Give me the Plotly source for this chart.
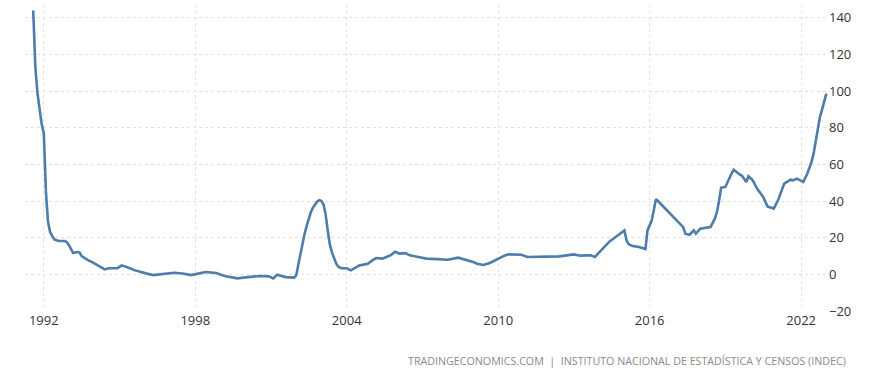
import plotly.graph_objects as go

dates = [
    "1991-08-01", "1991-09-01", "1991-10-01", "1991-11-01", "1991-12-01",
    "1992-01-01", "1992-02-01", "1992-03-01", "1992-04-01", "1992-06-01",
    "1992-08-01", "1992-11-01", "1992-12-01", "1993-01-01", "1993-02-01",
    "1993-03-01", "1993-05-01", "1993-06-01", "1993-07-01", "1993-08-01",
    "1993-10-01", "1993-12-01", "1994-02-01", "1994-04-01", "1994-06-01",
    "1994-08-01", "1994-10-01", "1994-12-01", "1995-02-01", "1995-04-01",
    "1995-06-01", "1995-08-01", "1995-11-01", "1996-02-01", "1996-05-01",
    "1996-10-01", "1997-03-01", "1997-07-01", "1997-11-01", "1998-06-01",
    "1998-11-01", "1999-03-01", "1999-09-01", "2000-02-01", "2000-08-01",
    "2000-12-01", "2001-02-01", "2001-04-01", "2001-08-01", "2001-12-01",
    "2002-01-01", "2002-02-01", "2002-03-01", "2002-04-01", "2002-05-01",
    "2002-06-01", "2002-07-01", "2002-08-01", "2002-09-01", "2002-10-01",
    "2002-11-01", "2002-12-01", "2003-01-01", "2003-02-01", "2003-03-01",
    "2003-04-01", "2003-05-01", "2003-06-01", "2003-07-01", "2003-08-01",
    "2003-09-01", "2003-10-01", "2003-11-01", "2004-01-01", "2004-03-01",
    "2004-05-01", "2004-07-01", "2004-09-01", "2004-11-01", "2005-01-01",
    "2005-03-01", "2005-06-01", "2005-08-01", "2005-10-01", "2005-12-01",
    "2006-02-01", "2006-05-01", "2006-07-01", "2006-11-01", "2007-03-01",
    "2007-08-01", "2008-01-01", "2008-06-01", "2008-10-01", "2009-01-01",
    "2009-03-01", "2009-06-01", "2009-09-01", "2009-12-01", "2010-02-01",
    "2010-04-01", "2010-06-01", "2010-12-01", "2011-03-01", "2011-10-01",
    "2012-06-01", "2013-01-01", "2013-04-01", "2013-09-01", "2013-11-01",
    "2014-01-01", "2014-06-01", "2015-01-01", "2015-02-01", "2015-03-01",
    "2015-05-01", "2015-08-01", "2015-10-01", "2015-11-01", "2015-12-01",
    "2016-02-01", "2016-03-01", "2016-04-01", "2016-05-01", "2017-05-01",
    "2017-06-01", "2017-08-01", "2017-10-01", "2017-11-01", "2018-01-01",
    "2018-06-01", "2018-08-01", "2018-09-01", "2018-10-01", "2018-11-01",
    "2019-01-01", "2019-02-01", "2019-04-01", "2019-05-01", "2019-06-01",
    "2019-08-01", "2019-09-01", "2019-11-01", "2019-12-01", "2020-02-01",
    "2020-04-01", "2020-06-01", "2020-07-01", "2020-09-01", "2020-12-01",
    "2021-02-01", "2021-05-01", "2021-08-01", "2021-09-01", "2021-11-01",
    "2022-02-01", "2022-04-01", "2022-06-01", "2022-07-01", "2022-08-01",
    "2022-09-01", "2022-10-01", "2022-11-01", "2022-12-01", "2023-01-01",
]

inflation = [
    144, 113, 99, 89, 82,
    77, 45, 29, 23, 19,
    18.2, 18.2, 17.5, 15.8, 13.5,
    11.6, 12.2, 12.0, 10.0, 9.1,
    7.8, 6.7, 5.4, 4.2, 2.7,
    3.3, 3.4, 3.4, 4.9, 4.2,
    3.3, 2.3, 1.2, 0.4, -0.4,
    0.2, 0.9, 0.5, -0.4, 1.3,
    0.7, -0.9, -2.2, -1.5, -0.9,
    -1.1, -2.2, -0.2, -1.5, -1.8,
    -0.5, 5.5, 11.0, 16.5, 22.0,
    26.5, 30.5, 34.0, 36.5, 38.5,
    39.8, 40.5, 40.0, 38.0, 33.0,
    24.0, 16.5, 12.0, 8.6, 6.0,
    4.2, 3.5, 3.4, 3.3, 2.2,
    3.5, 4.9, 5.3, 5.8, 7.5,
    8.9, 8.6, 9.5, 10.5, 12.3,
    11.3, 11.6, 10.4, 9.5, 8.6,
    8.3, 8.0, 9.1, 8.0, 6.8,
    5.8, 5.1, 6.2, 8.0, 9.1,
    10.2, 10.9, 10.7, 9.5, 9.5,
    9.8, 10.9, 10.2, 10.4, 9.5,
    12.0, 18.0, 24.0, 18.6, 16.5,
    15.5, 14.9, 14.0, 13.8, 24.0,
    29.5, 35.0, 41.0, 40.0, 25.8,
    22.2, 21.6, 24.0, 22.2, 24.9,
    25.8, 30.4, 34.0, 40.0, 47.3,
    47.7, 50.4, 55.0, 57.1, 56.0,
    54.4, 53.7, 50.4, 53.5, 51.3,
    47.0, 43.5, 42.2, 37.1, 35.9,
    40.4, 49.5, 51.7, 51.3, 52.2,
    50.4, 55.0, 61.3, 66.0, 73.0,
    81.0, 86.0, 90.0, 94.5, 98.6,
]

x_ticks = ["1992-01-01", "1998-01-01", "2004-01-01", "2010-01-01", "2016-01-01", "2022-01-01"]
x_tick_labels = ["1992", "1998", "2004", "2010", "2016", "2022"]
y_ticks = [-20, 0, 20, 40, 60, 80, 100, 120, 140]

source_text = "TRADINGECONOMICS.COM  |  INSTITUTO NACIONAL DE ESTADÍSTICA Y CENSOS (INDEC)"

fig = go.Figure()
fig.add_trace(go.Scatter(
    x=dates, y=inflation, mode="lines",
    line=dict(color="#4c7dab", width=2.6),
    hoverinfo="x+y", showlegend=False,
))

fig.update_layout(
    width=869, height=376,
    margin=dict(l=25, r=41, t=5, b=65),
    paper_bgcolor="white", plot_bgcolor="white",
    font=dict(family="Open Sans, sans-serif", size=13, color="#333333"),
    xaxis=dict(
        type="date",
        range=["1991-04-04", "2023-01-25"],
        tickvals=x_ticks, ticktext=x_tick_labels,
        showgrid=True, gridcolor="#e2e2e2", griddash="dot", gridwidth=1,
        zeroline=False, showline=False, ticks="",
        tickfont=dict(size=13, color="#333333"),
    ),
    yaxis=dict(
        side="right",
        range=[-20, 147],
        tickvals=y_ticks,
        showgrid=True, gridcolor="#e2e2e2", griddash="dot", gridwidth=1,
        zeroline=False, showline=False, ticks="",
        tickfont=dict(size=13, color="#333333"),
    ),
    annotations=[dict(
        text=source_text, xref="paper", yref="paper",
        x=1.0 + 20 / 803, y=-0.165, xanchor="right", yanchor="middle",
        showarrow=False, font=dict(size=10.7, color="#8a8a8a"),
    )],
)

fig.write_html("out.html", config={"displayModeBar": False})

with open("out.html", "r", encoding="utf-8") as f:
    html = f.read()
html = html.replace("<body>", '<body style="margin:0;padding:0;">', 1)
with open("out.html", "w", encoding="utf-8") as f:
    f.write(html)
